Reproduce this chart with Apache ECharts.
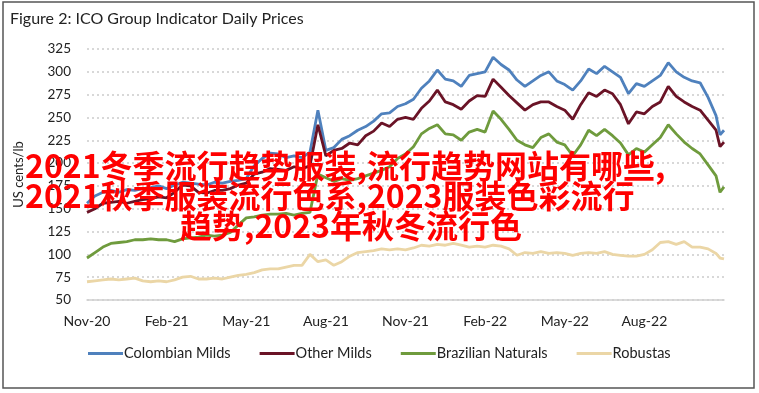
<!DOCTYPE html>
<html>
<head>
<meta charset="utf-8">
<script src="https://cdn.jsdelivr.net/npm/echarts@6/dist/echarts.min.js"></script>
<style>
html,body{margin:0;padding:0;background:#fff;}
#chart{width:759px;height:393px;}
</style>
</head>
<body>
<div id="chart"></div>
<script>
// Months since 1 Nov 2020
const monthPos = [0,0.3,0.6,0.9,1.2,1.5,1.8,2.1,2.4,2.7,3.0,3.3,3.6,3.9,4.2,4.5,4.8,5.1,5.4,5.7,
6.0,6.3,6.6,6.9,7.2,7.5,7.8,8.1,8.4,8.7,9.0,9.3,9.6,9.9,10.2,10.5,10.8,11.1,11.4,11.7,
12.0,12.3,12.6,12.9,13.2,13.5,13.8,14.1,14.4,14.7,15.0,15.3,15.6,15.9,16.2,16.5,16.8,17.1,17.4,17.7,
18.0,18.3,18.6,18.9,19.2,19.5,19.8,20.1,20.4,20.7,21.0,21.3,21.6,21.9,22.2,22.5,22.8,23.1,23.4,23.7,23.85,24.0];

const colombianMilds = [156,164,168,170,168,171,170,172,173,175,172,176,179,178,177,176,179,178,180,181,
183,197,205,211,210,206,208,206,212,258,214,217,226,230,236,240,246,254,255,262,
265,270,282,290,302,292,290,284,296,298,300,316,308,302,291,284,290,296,300,290,
286,280,290,303,298,306,300,294,276,287,284,290,296,310,300,294,290,288,272,252,231,236];

const otherMilds = [146,150,156,157,158,156,158,160,161,163,162,168,176,175,168,167,170,170,172,176,
178,188,190,194,193,192,196,194,197,242,208,214,216,222,220,230,235,244,240,248,
250,248,260,268,280,267,264,259,268,274,273,292,283,274,266,258,264,267,267,262,
258,248,264,277,273,280,276,264,243,256,254,262,267,284,273,267,262,258,247,236,218,223];

const brazilianNaturals = [96,102,108,112,113,114,116,116,117,116,116,114,117,118,119,121,120,121,124,132,
140,141,143,144,144,145,143,145,146,188,184,180,183,181,183,186,189,192,196,205,
210,218,232,238,242,232,231,225,234,237,234,257,248,237,225,220,217,228,232,223,
220,208,220,236,230,237,230,222,209,216,212,220,228,242,232,223,216,210,198,186,168,174];

const robustas = [70,71,72,73,72,73,74,71,70,71,70,72,75,76,73,73,74,73,75,77,
78,80,83,84,84,86,88,88,100,92,94,88,92,98,102,103,104,106,105,106,
105,107,110,109,111,110,112,110,108,109,108,110,109,106,99,102,101,103,101,102,
101,99,101,102,101,103,100,99,98,98,100,105,113,114,111,114,108,108,106,101,96,95];

const tickLabels = ['Nov-20','Feb-21','May-21','Aug-21','Nov-21','Feb-22','May-22','Aug-22'];
const seriesNames = ['Colombian Milds','Other Milds','Brazilian Naturals','Robustas'];
const seriesColors = ['#4f81bd','#6a1326','#6f9b3d','#ebd6a6'];
const overlayLines = ['2021冬季流行趋势服装,流行趋势网站有哪些,','2021秋季服装流行色系,2023服装色彩流行','趋势,2023年秋冬流行色'];

const allValues = [colombianMilds, otherMilds, brazilianNaturals, robustas];
const FONT = 'Lato, "Open Sans", sans-serif';

const chart = echarts.init(document.getElementById('chart'), null, {renderer:'canvas'});
chart.setOption({
  animation:false,
  backgroundColor:'#fff',
  title:{
    text:'Figure 2: ICO Group Indicator Daily Prices',
    left:5, top:6,
    textStyle:{fontFamily:FONT, fontSize:16, fontWeight:'normal', color:'#222'}
  },
  legend:{
    data:seriesNames,
    left:83, top:341,
    icon:'rect', itemWidth:35, itemHeight:3, itemGap:29,
    textStyle:{fontFamily:FONT, fontSize:14.5, color:'#222', padding:[0,0,0,-4]}
  },
  grid:{left:87, right:35, top:49, bottom:93},
  xAxis:{
    type:'value', min:0, max:24, interval:3,
    axisLine:{show:true, lineStyle:{color:'#d0d0d0', width:1.5}},
    axisTick:{show:false},
    splitLine:{show:false},
    axisLabel:{
      fontFamily:FONT, fontSize:14, color:'#222', margin:14,
      formatter:function(v){ const i=Math.round(v/3); return tickLabels[i]||''; }
    }
  },
  yAxis:{
    type:'value', min:50, max:325, interval:25,
    name:'US cents/lb', nameLocation:'middle', nameGap:62, nameRotate:90,
    nameTextStyle:{fontFamily:FONT, fontSize:13, color:'#222'},
    axisLine:{show:false}, axisTick:{show:false},
    axisLabel:{fontFamily:FONT, fontSize:13.5, color:'#222', margin:16},
    splitLine:{show:true, lineStyle:{color:'#cccccc', width:1.5, type:[2,3]}}
  },
  series: seriesNames.map(function(n,i){
    return {
      name:n, type:'line', showSymbol:false, symbol:'none',
      color:seriesColors[i],
      lineStyle:{width:2.8, color:seriesColors[i]},
      data: monthPos.map(function(m,j){ return [m, allValues[i][j]]; })
    };
  }),
  graphic:[
    {type:'rect', shape:{x:3, y:2, width:751, height:386}, style:{fill:'none', stroke:'#555', lineWidth:1.5}, z:100},
    {type:'text', left:25, top:150, z:200, style:{text:overlayLines[0], fill:'#ff0000', font:'bold 32px "Noto Sans CJK SC"'}},
    {type:'text', left:25, top:180, z:200, style:{text:overlayLines[1], fill:'#ff0000', font:'bold 32px "Noto Sans CJK SC"'}},
    {type:'text', left:180, top:210, z:200, style:{text:overlayLines[2], fill:'#ff0000', font:'bold 32px "Noto Sans CJK SC"'}}
  ]
});
</script>
</body>
</html>
